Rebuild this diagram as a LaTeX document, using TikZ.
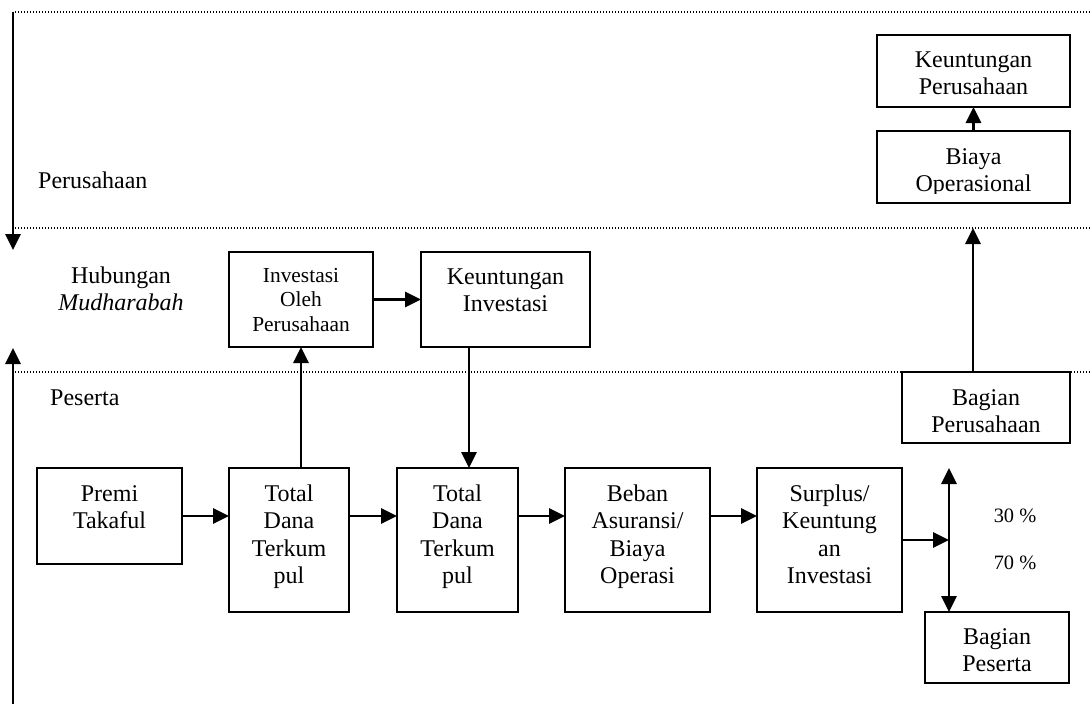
\documentclass[tikz,border=0pt]{standalone}
\usepackage{fontspec}
\setmainfont{Liberation Serif}
\usetikzlibrary{arrows.meta}
\begin{document}
\begin{tikzpicture}[x=1pt,y=-1pt,
  box/.style={draw, line width=1.8pt, inner sep=0pt, outer sep=0pt},
  txt/.style={align=center, inner sep=0pt, anchor=north, font=\fontsize{24}{27.5}\selectfont},
  stxt/.style={align=center, inner sep=0pt, anchor=north, font=\fontsize{21.4}{24.5}\selectfont},
  ptxt/.style={inner sep=0pt, font=\fontsize{20.4}{24.5}\selectfont},
  arr/.style={line width=2.8pt, -{Triangle[length=16pt,width=15pt]}},
  darr/.style={line width=2.8pt, {Triangle[length=16pt,width=15pt]}-{Triangle[length=16pt,width=15pt]}},
  sep/.style={line width=1.2pt, dash pattern=on 1.2pt off 1.8pt},
]
\useasboundingbox (0,0) rectangle (1090,704);

% dotted separators
\coordinate (s1l) at (15,12);  \coordinate (s1r) at (1090,12);
\coordinate (s2l) at (15,228); \coordinate (s2r) at (1090,228);
\coordinate (s3l) at (15,372); \coordinate (s3r) at (1090,372);
\draw[sep] (s1l) -- (s1r);
\draw[sep] (s2l) -- (s2r);
\draw[sep] (s3l) -- (s3r);

% boxes
\node[box, minimum width=193pt, minimum height=72pt] (kp) at (973.5,71) {};
\node[box, minimum width=193pt, minimum height=72pt] (bo) at (973.5,167) {};
\node[box, minimum width=168pt, minimum height=71pt] (bp) at (986,407.5) {};
\node[box, minimum width=144pt, minimum height=71pt] (bps) at (997,647.5) {};
\node[box, minimum width=144pt, minimum height=95pt] (inv) at (301,299.5) {};
\node[box, minimum width=169pt, minimum height=95pt] (ki) at (505.5,299.5) {};
\node[box, minimum width=145pt, minimum height=96pt] (premi) at (109.5,516) {};
\node[box, minimum width=120pt, minimum height=144pt] (t1) at (289,540) {};
\node[box, minimum width=121pt, minimum height=144pt] (t2) at (457.5,540) {};
\node[box, minimum width=145pt, minimum height=144pt] (beban) at (637.5,540) {};
\node[box, minimum width=145pt, minimum height=144pt] (surplus) at (829.5,540) {};

% box texts
\node[txt] (kp-t) at ([yshift=-12.75pt]kp.north) {\strut Keuntungan\\Perusahaan};
\begin{scope}
\clip (877,131) rectangle (1070,193);
\node[txt] (bo-t) at ([yshift=-13.75pt]bo.north) {\strut Biaya\\Operasional};
\end{scope}
\node[txt] (bp-t) at ([yshift=-13.75pt]bp.north) {\strut Bagian\\Perusahaan};
\node[txt] (bps-t) at ([yshift=-12.75pt]bps.north) {\strut Bagian\\Peserta};
\node[stxt] (inv-t) at ([yshift=-12.85pt]inv.north) {\strut Investasi\\Oleh\\Perusahaan};
\node[txt] (ki-t) at ([yshift=-12.75pt]ki.north) {\strut Keuntungan\\Investasi};
\node[txt] (premi-t) at ([yshift=-13.75pt]premi.north) {\strut Premi\\Takaful};
\node[txt] (t1-t) at ([yshift=-13.75pt]t1.north) {\strut Total\\Dana\\Terkum\\pul};
\node[txt] (t2-t) at ([yshift=-13.75pt]t2.north) {\strut Total\\Dana\\Terkum\\pul};
\node[txt] (beban-t) at ([yshift=-13.75pt]beban.north) {\strut Beban\\Asuransi/\\Biaya\\Operasi};
\node[txt] (surplus-t) at ([yshift=-13.75pt]surplus.north) {\strut Surplus/\\Keuntung\\an\\Investasi};

% free labels
\node[txt, anchor=base west] (lperus) at (38,188) {Perusahaan};
\node[txt] (lhub) at (121,263.75) {\strut Hubungan\\\textit{Mudharabah}};
\node[txt, anchor=base west] (lpes) at (50,405) {Peserta};
\node[ptxt, anchor=base] (p30) at (1015,522) {30 \%};
\node[ptxt, anchor=base] (p70) at (1015,569) {70 \%};

% connectors
\draw[arr] (bo.north) -- (kp.south);
\coordinate (bpup) at (973,228);
\draw[arr] (bp.north -| bpup) -- (bpup);
\coordinate (rowy) at (0,516);
\draw[arr] (premi.east) -- (premi.east -| t1.west);
\draw[arr] (t1.east |- rowy) -- (t2.west |- rowy);
\draw[arr] (t2.east |- rowy) -- (beban.west |- rowy);
\draw[arr] (beban.east |- rowy) -- (surplus.west |- rowy);
\coordinate (split) at (949,540);
\draw[arr] (surplus.east) -- (split);
\draw[darr] (split |- t1.north) -- (split |- bps.north);
\draw[arr] (inv.south |- t1.north) -- (inv.south);
\draw[arr] (inv.east) -- (ki.west);
\coordinate (kidown) at (469,0);
\draw[arr] (kidown |- ki.south) -- (kidown |- t2.north);

% side arrows
\coordinate (la1) at (13,12);  \coordinate (la2) at (13,250);
\draw[arr] (la1) -- (la2);
\coordinate (lb1) at (13,704); \coordinate (lb2) at (13,348);
\draw[arr] (lb1) -- (lb2);
\end{tikzpicture}
\end{document}
